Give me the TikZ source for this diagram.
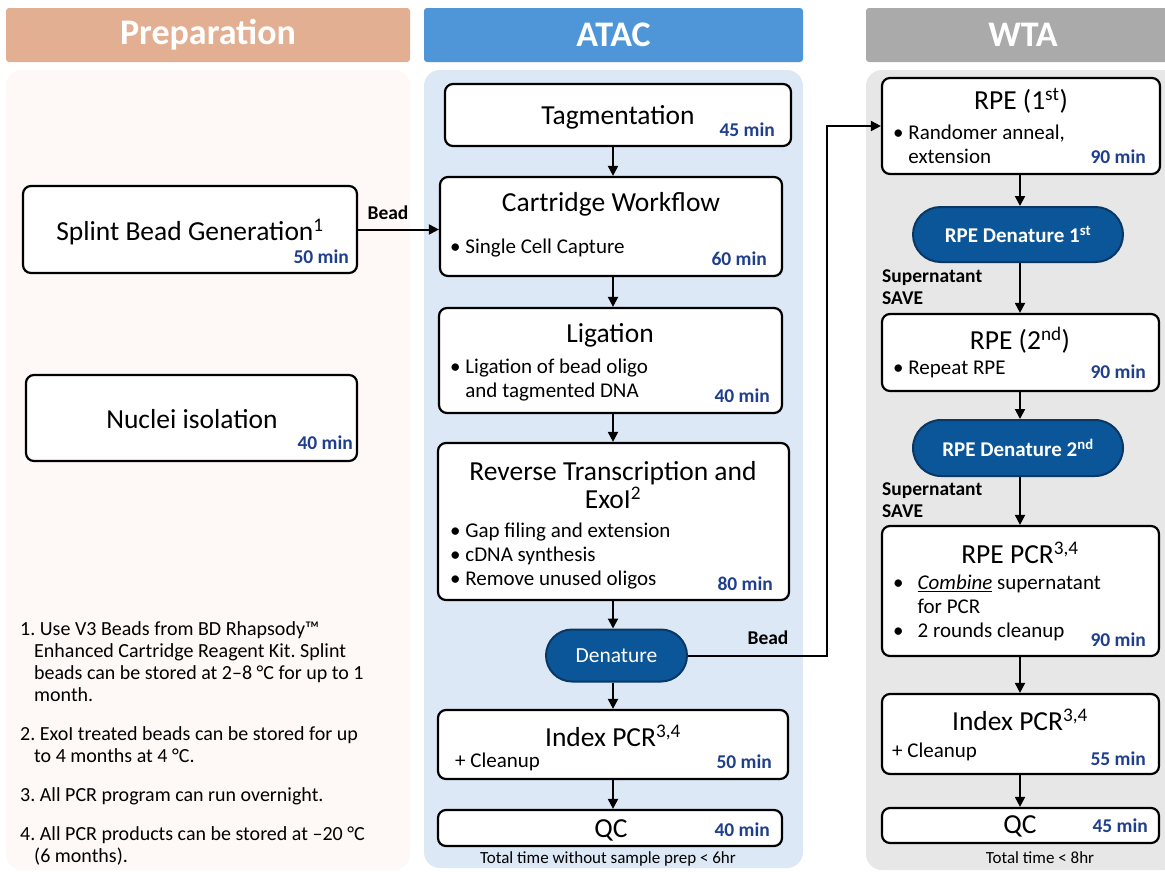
\documentclass[tikz,border=0pt]{standalone}
\usepackage{fontspec}
\setmainfont{Carlito}
\usetikzlibrary{positioning,arrows.meta,shapes.misc}
\frenchspacing

\definecolor{prepcol}{RGB}{226,175,147}
\definecolor{prepbg}{RGB}{254,249,246}
\definecolor{ataccol}{RGB}{79,150,217}
\definecolor{atacbg}{RGB}{220,232,245}
\definecolor{wtacol}{RGB}{170,170,170}
\definecolor{wtabg}{RGB}{231,231,231}
\definecolor{denfill}{RGB}{11,85,153}
\definecolor{denedge}{RGB}{10,55,100}
\definecolor{minblue}{RGB}{31,62,140}

\begin{document}
\begin{tikzpicture}[
        x=1pt, y=-1pt,
        font=\fontsize{21}{24}\selectfont,
        panel/.style={rectangle, rounded corners=16pt, inner sep=0pt, minimum height=800},
        header/.style={rectangle, rounded corners=3pt, inner sep=0pt, minimum height=54, text=white, font=\fontsize{36}{38}\selectfont\bfseries},
        stepbox/.style={rectangle, draw=black, line width=2.2pt, fill=white, rounded corners=8pt, inner sep=0pt},
        denat/.style={rounded rectangle, draw=denedge, line width=2pt, fill=denfill, text=white, inner sep=0pt, minimum height=52, font=\fontsize{21.5}{24}\selectfont},
        title/.style={font=\fontsize{27.5}{28}\selectfont, align=center, inner sep=0pt},
        bullets/.style={align=left, anchor=west, inner sep=0pt},
        mins/.style={font=\fontsize{19.5}{22}\selectfont\bfseries, text=minblue, anchor=east, inner sep=0pt},
        flowlabel/.style={font=\fontsize{19.5}{22}\selectfont\bfseries, align=left, inner sep=0pt},
        note/.style={font=\fontsize{20}{22}\selectfont, align=left, anchor=west, inner sep=0pt},
        total/.style={font=\fontsize{17}{20}\selectfont, inner sep=0pt},
        arrow/.style={line width=2pt, -{Triangle[length=10pt, width=10pt]}}
    ]
        \useasboundingbox (0,0) rectangle (1165,871);

        % --- Column panels ---
        \node[panel, fill=prepbg, minimum width=404] (prepbox) at (208,470) {};
        \node[panel, fill=atacbg, minimum width=379, minimum height=798] (atacbox) at (613.5,469) {};
        \node[panel, fill=wtabg, minimum width=314] (wtabox) at (1023,470) {};

        % --- Column headers ---
        \node[header, fill=prepcol, minimum width=404] (prephead) at (208,35) {Preparation};
        \node[header, fill=ataccol, minimum width=379] (atachead) at (613.5,35) {ATAC};
        \node[header, fill=wtacol, minimum width=314] (wtahead) at (1023,35) {WTA};

        % --- Preparation ---
        \node[stepbox, minimum width=334, minimum height=87] (splint) at (190,229.5) {};
        \node[title] (splintT) at (190,232) {Splint Bead Generation\textsuperscript{1}};
        \node[mins] (splintM) at (349,257) {50 min};

        \node[stepbox, minimum width=331, minimum height=86] (nuclei) at (191.5,418) {};
        \node[title] (nucleiT) at (192,419) {Nuclei isolation};
        \node[mins] (nucleiM) at (353,443) {40 min};

        % --- Footnotes ---
        \node[note] (note1) at (20,662) {1. Use V3 Beads from BD Rhapsody\texttrademark\\
        \hspace*{14pt}Enhanced Cartridge Reagent Kit. Splint\\
        \hspace*{14pt}beads can be stored at 2–8 °C for up to 1\\
        \hspace*{14pt}month.};
        \node[note] (note2) at (20,745) {2. ExoI treated beads can be stored for up\\
        \hspace*{14pt}to 4 months at 4 °C.};
        \node[note] (note3) at (20,796) {3. All PCR program can run overnight.};
        \node[note] (note4) at (20,846) {4. All PCR products can be stored at –20 °C\\
        \hspace*{14pt}(6 months).};

        % --- ATAC ---
        \node[stepbox, minimum width=346, minimum height=62] (tag) at (618,115) {};
        \node[title] (tagT) at (618,117) {Tagmentation};
        \node[mins] (tagM) at (775,130) {45 min};

        \node[stepbox, minimum width=342, minimum height=99] (cart) at (611,226.5) {};
        \node[title] (cartT) at (611,204) {Cartridge Workflow};
        \node[bullets] (cartB) at (450,248) {\textbullet\ Single Cell Capture};
        \node[mins] (cartM) at (767,259) {60 min};

        \node[stepbox, minimum width=343, minimum height=105] (lig) at (610.5,360.5) {};
        \node[title] (ligT) at (610,335) {Ligation};
        \node[bullets] (ligB) at (450,380) {\textbullet\ Ligation of bead oligo\\
        \phantom{\textbullet\ }and tagmented DNA};
        \node[mins] (ligM) at (770,396) {40 min};

        \node[stepbox, minimum width=351, minimum height=157] (rt) at (613.5,521.5) {};
        \node[title] (rtT) at (613,485) {Reverse Transcription and\\ExoI\textsuperscript{2}};
        \node[bullets] (rtB) at (450,556) {\textbullet\ Gap filing and extension\\
        \textbullet\ cDNA synthesis\\
        \textbullet\ Remove unused oligos};
        \node[mins] (rtM) at (773,584) {80 min};

        \node[denat, minimum width=141] (den) at (616.5,655.5) {Denature};

        \node[stepbox, minimum width=350, minimum height=69] (atacidx) at (613,744.5) {};
        \node[title] (atacidxT) at (613,736) {Index PCR\textsuperscript{3,4}};
        \node[bullets] (atacidxB) at (455,762) {+ Cleanup};
        \node[mins] (atacidxM) at (772,762) {50 min};

        \node[stepbox, minimum width=344, minimum height=36] (atacqc) at (610,828) {};
        \node[title] (atacqcT) at (611,830) {QC};
        \node[mins] (atacqcM) at (770,830) {40 min};

        \node[total] (atactotal) at (608,859) {Total time without sample prep < 6hr};

        % --- WTA ---
        \node[stepbox, minimum width=278, minimum height=96] (rpe1) at (1021,126) {};
        \node[title] (rpe1T) at (1021,101) {RPE (1\textsuperscript{st})};
        \node[bullets] (rpe1B) at (893,144) {\textbullet\ Randomer anneal,\\
        \phantom{\textbullet\ }extension};
        \node[mins] (rpe1M) at (1146,157) {90 min};

        \node[denat, minimum width=210, minimum height=55, font=\fontsize{21}{22}\selectfont\bfseries] (rpeden1) at (1018,234.5) {RPE Denature 1\textsuperscript{st}};
        \node[flowlabel, anchor=west] (save1) at (882,287) {Supernatant\\SAVE};

        \node[stepbox, minimum width=277, minimum height=77] (rpe2) at (1020.5,352.5) {};
        \node[title] (rpe2T) at (1020,340) {RPE (2\textsuperscript{nd})};
        \node[bullets] (rpe2B) at (893,369) {\textbullet\ Repeat RPE};
        \node[mins] (rpe2M) at (1146,372) {90 min};

        \node[denat, minimum width=210, minimum height=56, font=\fontsize{21}{22}\selectfont\bfseries] (rpeden2) at (1018,448) {RPE Denature 2\textsuperscript{nd}};
        \node[flowlabel, anchor=west] (save2) at (882,500) {Supernatant\\SAVE};

        \node[stepbox, minimum width=277, minimum height=130] (rpepcr) at (1020.5,591) {};
        \node[title] (rpepcrT) at (1020,553) {RPE PCR\textsuperscript{3,4}};
        \node[bullets] (rpepcrB) at (893,608) {\textbullet\hspace{14pt}\underline{\textit{Combine}} supernatant\\
        \phantom{\textbullet}\hspace{14pt}for PCR\\
        \textbullet\hspace{14pt}2 rounds cleanup};
        \node[mins] (rpepcrM) at (1146,640) {90 min};

        \node[stepbox, minimum width=277, minimum height=80] (wtaidx) at (1020.5,734) {};
        \node[title] (wtaidxT) at (1020,720) {Index PCR\textsuperscript{3,4}};
        \node[bullets] (wtaidxB) at (892,752) {+ Cleanup};
        \node[mins] (wtaidxM) at (1146,759) {55 min};

        \node[stepbox, minimum width=277, minimum height=35] (wtaqc) at (1020.5,825.5) {};
        \node[title] (wtaqcT) at (1020,826) {QC};
        \node[mins] (wtaqcM) at (1148,826) {45 min};

        \node[total] (wtatotal) at (1040,858) {Total time < 8hr};

        % --- Connections ---
        \coordinate (acol) at (613,0);
        \coordinate (wcol) at (1020,0);

        \draw[arrow] (splint.east) -- (splint.east -| cart.west);
        \node[flowlabel] (beadA) at (388,213) {Bead};

        \draw[arrow] (tag.south -| acol) -- (cart.north -| acol);
        \draw[arrow] (cart.south -| acol) -- (lig.north -| acol);
        \draw[arrow] (lig.south -| acol) -- (rt.north -| acol);
        \draw[arrow] (rt.south -| acol) -- (den.north -| acol);
        \draw[arrow] (den.south -| acol) -- (atacidx.north -| acol);
        \draw[arrow] (atacidx.south -| acol) -- (atacqc.north -| acol);

        \draw[arrow] (den.east) -- ++(139,0) |- (rpe1.west);
        \node[flowlabel] (beadB) at (768,638) {Bead};

        \draw[arrow] (rpe1.south -| wcol) -- (rpeden1.north -| wcol);
        \draw[arrow] (rpeden1.south -| wcol) -- (rpe2.north -| wcol);
        \draw[arrow] (rpe2.south -| wcol) -- (rpeden2.north -| wcol);
        \draw[arrow] (rpeden2.south -| wcol) -- (rpepcr.north -| wcol);
        \draw[arrow] (rpepcr.south -| wcol) -- (wtaidx.north -| wcol);
        \draw[arrow] (wtaidx.south -| wcol) -- (wtaqc.north -| wcol);

    \end{tikzpicture}
\end{document}
